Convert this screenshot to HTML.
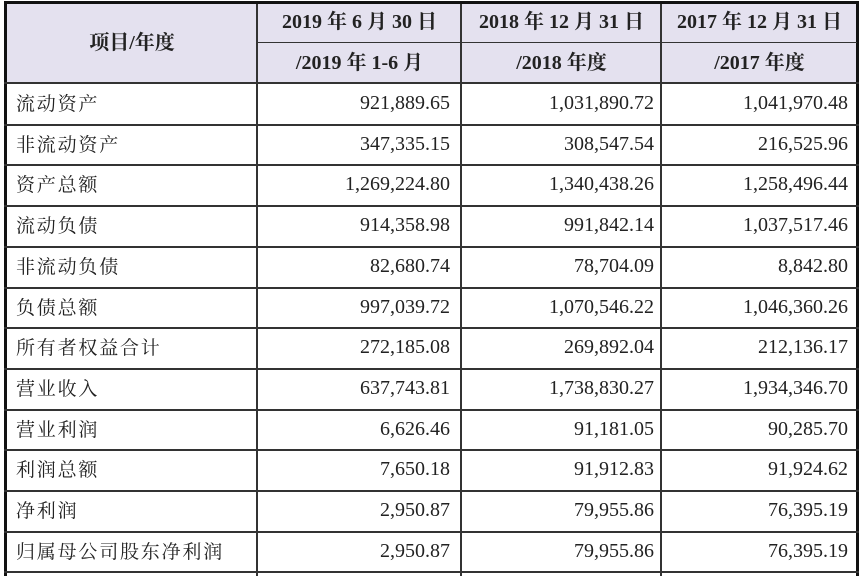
<!DOCTYPE html>
<html><head><meta charset="utf-8"><style>
body{margin:0;width:863px;height:576px;background:#fff;position:relative;overflow:hidden}
.hb{position:absolute;background:#e4e1ef}
.l{position:absolute;background:#333}
.t{position:absolute;font-family:"Liberation Serif","Noto Serif CJK SC",serif;color:#222;white-space:nowrap;line-height:24px;height:24px}
.lab{font-family:"Noto Serif CJK SC",serif;font-size:19px;left:16px;letter-spacing:1.8px}
.num{font-size:20px;text-align:right}
.hd{font-weight:bold;font-size:20px;text-align:center}
</style></head><body>
<div class="hb" style="left:6px;top:3px;width:852px;height:80px"></div>
<div class="l" style="left:4px;top:2px;width:3px;height:574px;background:#111"></div>
<div class="l" style="left:256px;top:2px;width:2px;height:574px"></div>
<div class="l" style="left:460px;top:2px;width:2px;height:574px"></div>
<div class="l" style="left:660px;top:2px;width:2px;height:574px"></div>
<div class="l" style="left:856px;top:2px;width:3px;height:574px;background:#111"></div>
<div class="l" style="left:4px;top:1px;width:855px;height:3px;background:#111"></div>
<div class="l" style="left:257px;top:42px;width:600px;height:1px"></div>
<div id="hl"></div>
<div class="t hd" style="left:7px;width:250px;top:31px">项目/年度</div>
<div class="t hd" style="left:258px;width:203px;top:10px">2019 年 6 月 30 日</div>
<div class="t hd" style="left:258px;width:203px;top:51px">/2019 年 1-6 月</div>
<div class="t hd" style="left:462px;width:199px;top:10px">2018 年 12 月 31 日</div>
<div class="t hd" style="left:462px;width:199px;top:51px">/2018 年度</div>
<div class="t hd" style="left:662px;width:195px;top:10px">2017 年 12 月 31 日</div>
<div class="t hd" style="left:662px;width:195px;top:51px">/2017 年度</div>
<script>
var rows=[["流动资产","921,889.65","1,031,890.72","1,041,970.48"],
["非流动资产","347,335.15","308,547.54","216,525.96"],
["资产总额","1,269,224.80","1,340,438.26","1,258,496.44"],
["流动负债","914,358.98","991,842.14","1,037,517.46"],
["非流动负债","82,680.74","78,704.09","8,842.80"],
["负债总额","997,039.72","1,070,546.22","1,046,360.26"],
["所有者权益合计","272,185.08","269,892.04","212,136.17"],
["营业收入","637,743.81","1,738,830.27","1,934,346.70"],
["营业利润","6,626.46","91,181.05","90,285.70"],
["利润总额","7,650.18","91,912.83","91,924.62"],
["净利润","2,950.87","79,955.86","76,395.19"],
["归属母公司股东净利润","2,950.87","79,955.86","76,395.19"]];
var h="";
h+='<div class="l" style="left:4px;top:82px;width:855px;height:2px"></div>';
for(var i=0;i<rows.length;i++){
 var y=83+i*40.7;
 h+='<div class="l" style="left:4px;top:'+Math.round(y+40.7)+'px;width:855px;height:2px"></div>';
 var ty=Math.round(y+8);
 h+='<div class="t lab" style="top:'+ty+'px">'+rows[i][0]+'</div>';
 h+='<div class="t num" style="left:258px;width:192px;top:'+ty+'px">'+rows[i][1]+'</div>';
 h+='<div class="t num" style="left:462px;width:192px;top:'+ty+'px">'+rows[i][2]+'</div>';
 h+='<div class="t num" style="left:662px;width:186px;top:'+ty+'px">'+rows[i][3]+'</div>';
}
document.getElementById("hl").innerHTML=h;
</script>
</body></html>
